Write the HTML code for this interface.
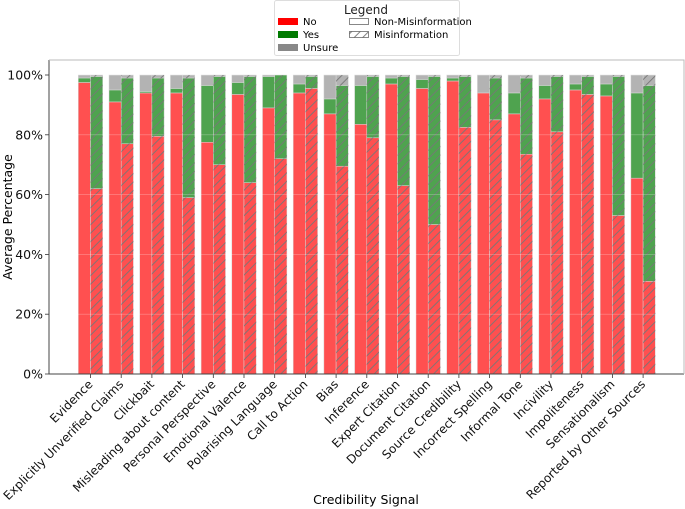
<!DOCTYPE html>
<html><head><meta charset="utf-8"><style>
body{margin:0;background:#fff}
svg{display:block;font-family:"DejaVu Sans","Liberation Sans",sans-serif}
</style></head><body>
<svg id="chart" width="685" height="509">
<defs>
<pattern id="hatch" width="6" height="6" patternUnits="userSpaceOnUse" patternTransform="rotate(45)">
<line x1="1" y1="0" x2="1" y2="6" stroke="#777" stroke-width="1" opacity="0.9"/>
</pattern>
</defs>
<g id="bars"></g>
<g id="axes"></g>
<g>
<rect x="274.5" y="0.5" width="185" height="55" fill="#fff" stroke="#ddd" rx="2"/>
<text x="366" y="14" font-size="12" text-anchor="middle" fill="#222">Legend</text>
<g><rect x="278" y="18" width="20" height="7" fill="#ff0000"/><text x="303" y="25" font-size="10">No</text></g>
<g><rect x="278" y="31" width="20" height="7" fill="#007a00"/><text x="303" y="38" font-size="10">Yes</text></g>
<g><rect x="278" y="44" width="20" height="7" fill="#888"/><text x="303" y="51" font-size="10">Unsure</text></g>
<g><rect x="349.5" y="18.5" width="19" height="6" fill="#fff" stroke="#555" stroke-width="0.7"/><text x="374" y="25" font-size="10">Non-Misinformation</text></g>
<g><rect x="349.5" y="31.5" width="19" height="6" fill="url(#hatch)" stroke="#555" stroke-width="0.7"/><text x="374" y="38" font-size="10">Misinformation</text></g>
</g>
<text x="366" y="504" font-size="12.5" text-anchor="middle">Credibility Signal</text>
<text x="12" y="217" font-size="12.5" text-anchor="middle" transform="rotate(-90 12 217)">Average Percentage</text>
</svg>
<script>
const categories=["Evidence","Explicitly Unverified Claims","Clickbait","Misleading about content","Personal Perspective","Emotional Valence","Polarising Language","Call to Action","Bias","Inference","Expert Citation","Document Citation","Source Credibility","Incorrect Spelling","Informal Tone","Incivility","Impoliteness","Sensationalism","Reported by Other Sources"];
const nonNo=[97.5,91,94,94,77.5,93.5,89,94,87,83.5,97,95.5,98,94,87,92,95,93,65.5];
const nonYes=[1.5,4,0.5,1.5,19,4,10.5,3,5,13,2,3,1,0,7,4.5,2,4,28.5];
const nonUnsure=[1,5,5.5,4.5,3.5,2.5,0.5,3,8,3.5,1,1.5,1,6,6,3.5,3,3,6];
const misNo=[62,77,79.5,59,70,64,72,95.5,69.5,79,63,50,82.5,85,73.5,81,93.5,53,31];
const misYes=[37.5,22,19.5,40,29.5,35.5,28,4,27,20.5,36.5,49.5,17,14,25.5,18.5,6,46.5,65.5];
const misUnsure=[0.5,1,1,1,0.5,0.5,0,0.5,3.5,0.5,0.5,0.5,0.5,1,1,0.5,0.5,0.5,3.5];
const yTicks=[0,20,40,60,80,100];

const NS="http://www.w3.org/2000/svg";
const x0=90.5, dx=30.7, bw=12.2;
const xPos=i=>x0+i*dx;
const yPos=v=>374-v*2.99;
const colors={no:"#ff5050",yes:"#4fa34f",unsure:"#b3b3b3"};
const bars=document.getElementById("bars");
const axes=document.getElementById("axes");
function mk(tag,attrs,parent){const e=document.createElementNS(NS,tag);for(const k in attrs)e.setAttribute(k,attrs[k]);parent.appendChild(e);return e;}

categories.forEach((c,i)=>{
  [[nonNo,nonYes,nonUnsure,-bw,false],[misNo,misYes,misUnsure,0,true]].forEach(([a,b,u,off,h])=>{
    let base=0;
    [[a[i],"no"],[b[i],"yes"],[u[i],"unsure"]].forEach(([v,k])=>{
      const r=mk("rect",{x:xPos(i)+off,y:yPos(base+v),width:bw,height:Math.max(0,yPos(base)-yPos(base+v)),fill:colors[k],stroke:"#d9d9d9","stroke-width":0.5},bars);
      
      
      if(h){const hr=mk("rect",{x:xPos(i)+off,y:yPos(base+v),width:bw,height:Math.max(0,yPos(base)-yPos(base+v)),fill:"url(#hatch)"},bars);
        
        }
      base+=v;
    });
  });
  const t=mk("line",{x1:xPos(i),x2:xPos(i),y1:374,y2:378,stroke:"#333","stroke-width":0.8},axes);
  
  
  const lx=xPos(i)+3, ly=385;
  const tl=mk("text",{x:lx,y:ly,"font-size":12,"text-anchor":"end",transform:`rotate(-45 ${lx} ${ly})`,fill:"#111"},axes);
  tl.textContent=c;
  
  
});
yTicks.forEach(v=>{
  const g=mk("line",{x1:49,x2:684,y1:yPos(v),y2:yPos(v),stroke:"#fff","stroke-width":0.6,opacity:0.35},axes);
  
  
  const t=mk("line",{x1:45,x2:49,y1:yPos(v),y2:yPos(v),stroke:"#333","stroke-width":0.8},axes);
  
  
  const tl=mk("text",{x:43,y:yPos(v)+4.5,"font-size":12.5,"text-anchor":"end",fill:"#111"},axes);
  tl.textContent=v+"%";
  
  
});
const fr=mk("path",{d:"M49 60 V374 H684",fill:"none",stroke:"#444","stroke-width":1},axes);


const fr2=mk("path",{d:"M49 60 H684 V374",fill:"none",stroke:"#bbb","stroke-width":1},axes);


</script>
</body></html>
